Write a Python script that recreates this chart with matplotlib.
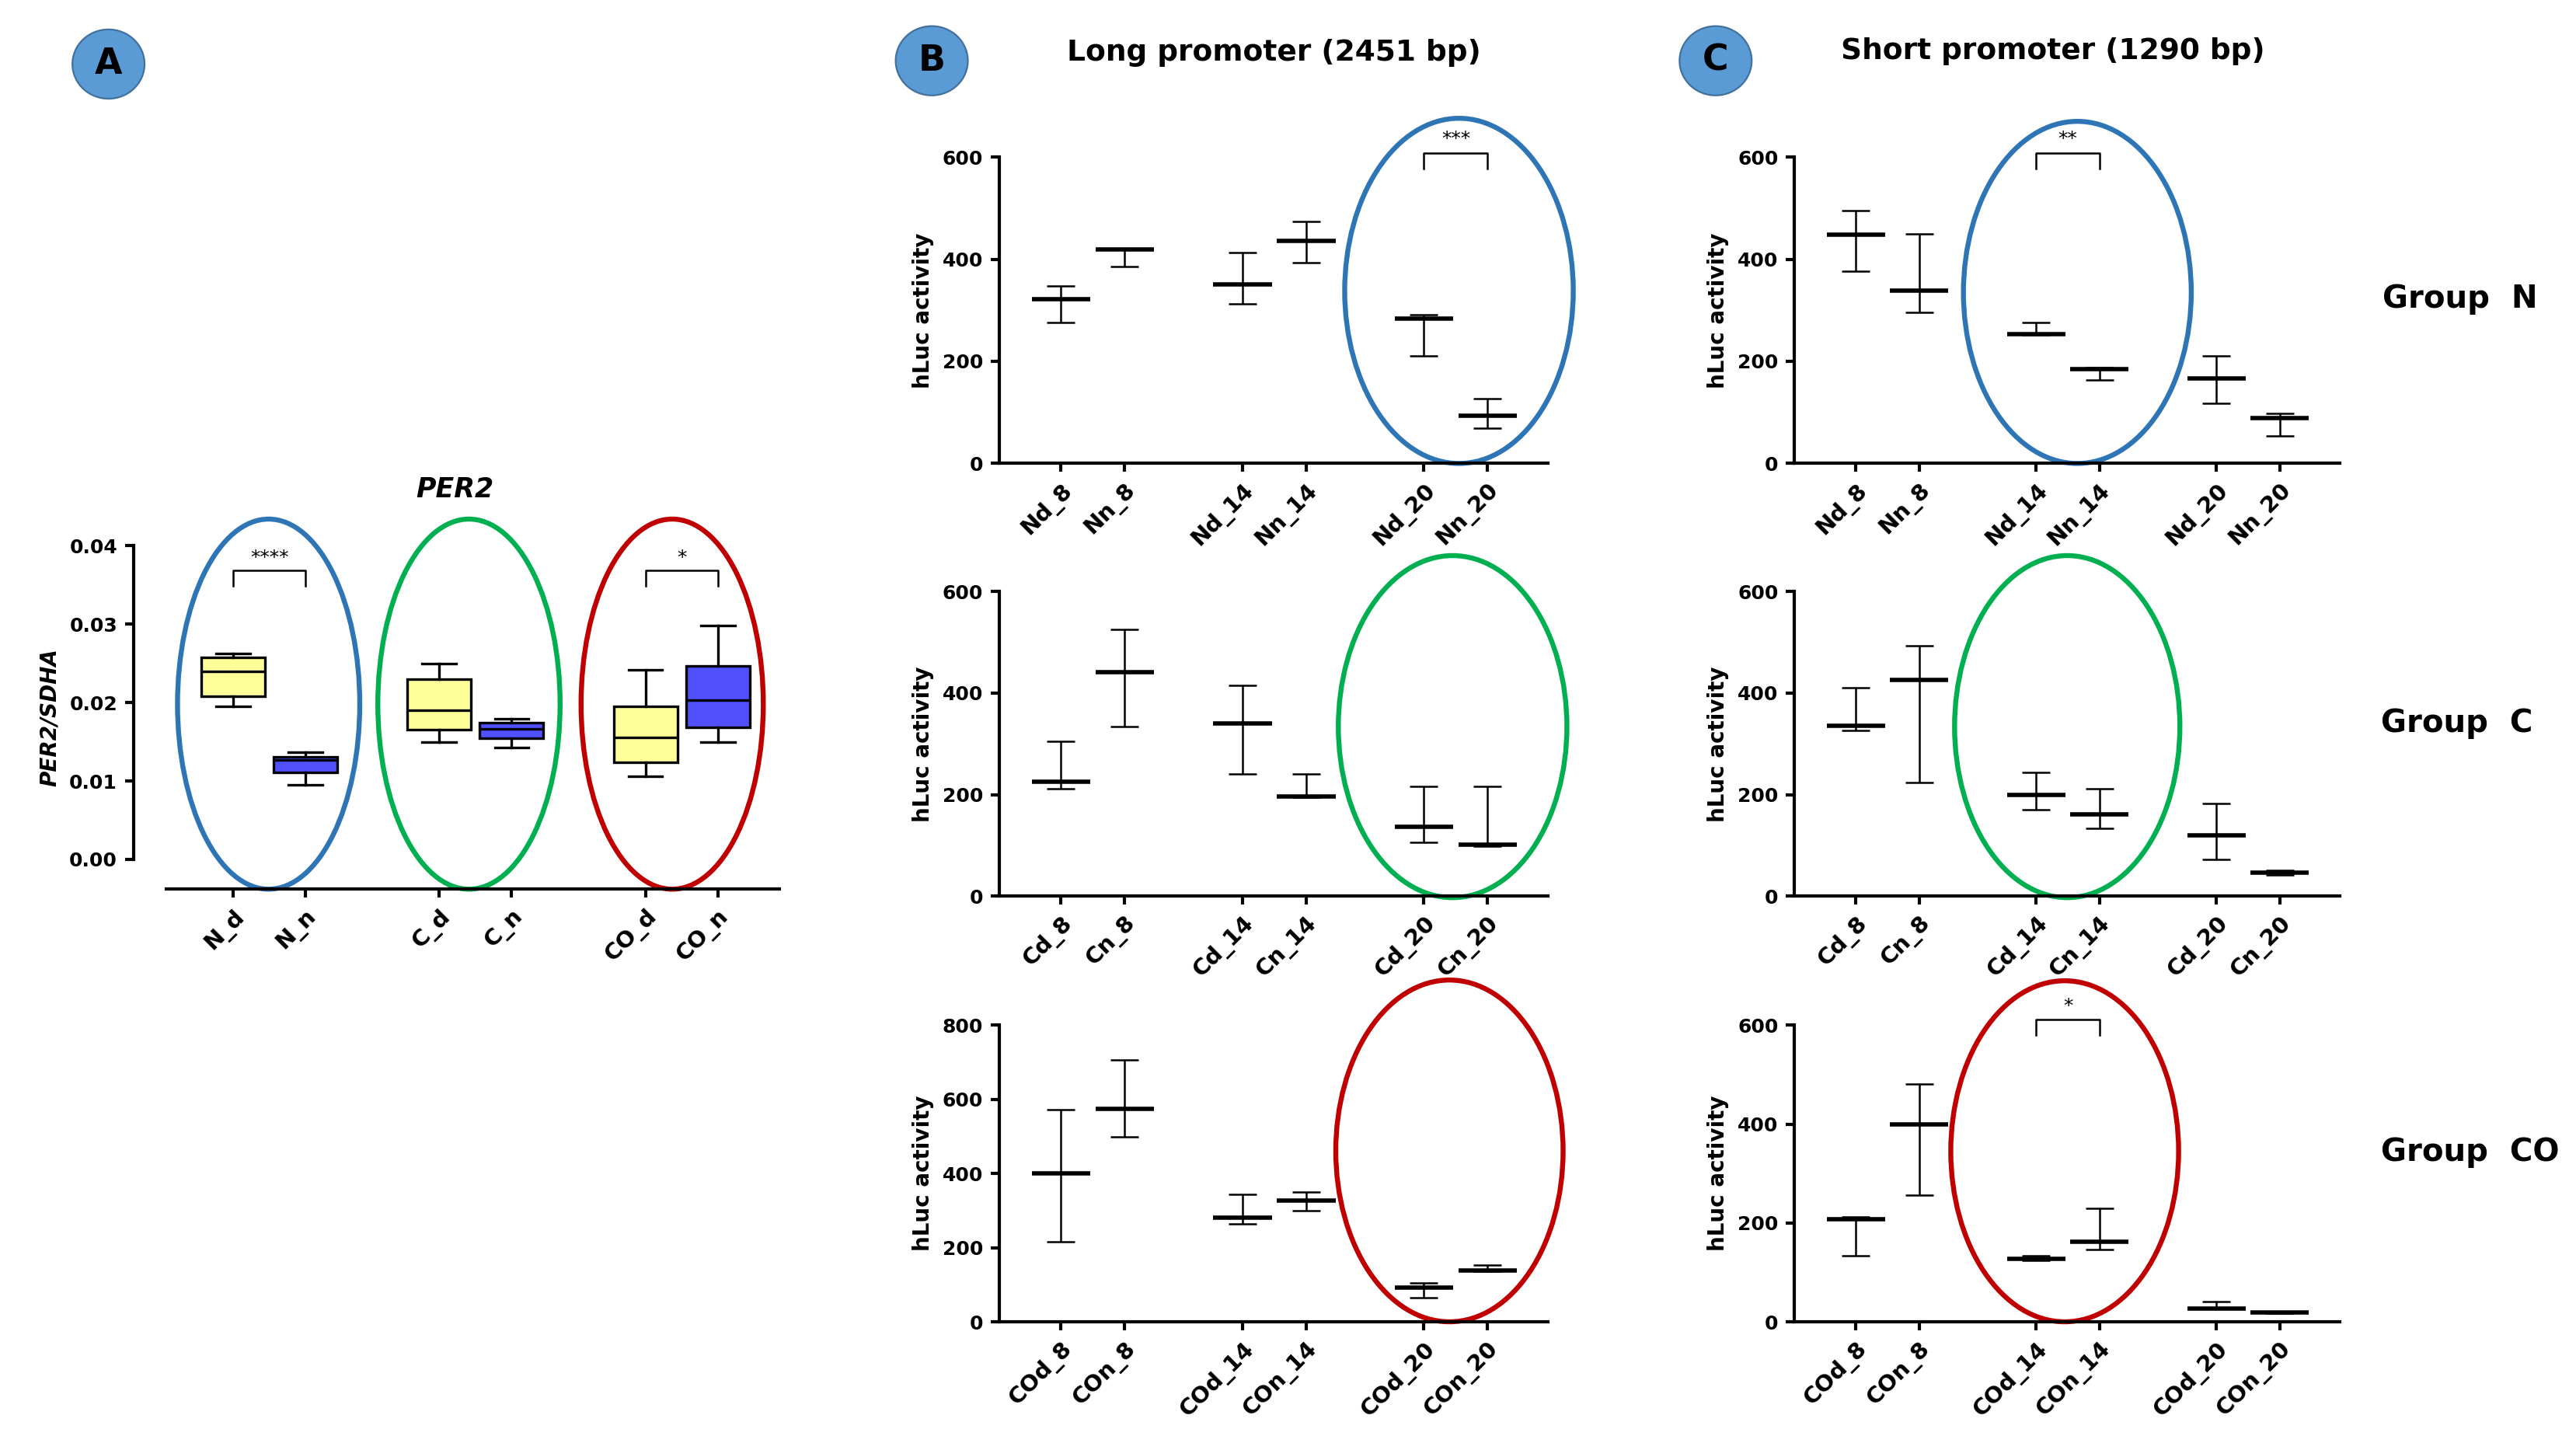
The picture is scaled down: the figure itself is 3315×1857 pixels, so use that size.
import matplotlib
matplotlib.use('Agg')
import matplotlib.pyplot as plt
from matplotlib.patches import Ellipse

# ---- panel A: PER2/SDHA box plots ----
per2_labels = ['N_d', 'N_n', 'C_d', 'C_n', 'CO_d', 'CO_n']
per2_whislo = [0.0195, 0.0095, 0.0150, 0.0143, 0.0106, 0.0150]
per2_q1 = [0.0208, 0.0111, 0.0165, 0.0155, 0.0124, 0.0168]
per2_med = [0.0240, 0.0127, 0.0190, 0.0166, 0.0156, 0.0203]
per2_q3 = [0.0258, 0.0131, 0.0230, 0.0174, 0.0195, 0.0247]
per2_whishi = [0.0263, 0.0137, 0.0250, 0.0179, 0.0242, 0.0298]

# ---- panels B/C: hLuc activity (centre line with range) ----
time_points = ['8', '14', '20']

long_N_mid = [322, 419, 350, 436, 284, 93]
long_N_lo = [276, 386, 312, 393, 211, 69]
long_N_hi = [348, 421, 413, 474, 292, 126]

short_N_mid = [448, 339, 253, 185, 167, 89]
short_N_lo = [377, 296, 252, 163, 118, 53]
short_N_hi = [495, 450, 276, 187, 211, 98]

long_C_mid = [226, 442, 341, 196, 137, 102]
long_C_lo = [211, 334, 241, 195, 106, 99]
long_C_hi = [305, 526, 416, 241, 216, 216]

short_C_mid = [336, 426, 200, 161, 120, 46]
short_C_lo = [326, 224, 171, 134, 73, 42]
short_C_hi = [411, 493, 244, 211, 183, 51]

long_CO_mid = [401, 575, 280, 327, 93, 138]
long_CO_lo = [216, 500, 265, 299, 65, 136]
long_CO_hi = [573, 707, 343, 350, 104, 153]

short_CO_mid = [207, 400, 128, 162, 27, 19]
short_CO_lo = [134, 256, 124, 146, 27, 18]
short_CO_hi = [213, 481, 133, 229, 41, 21]

xpos = [0, 1, 2.85, 3.85, 5.7, 6.7]
BLUE, GREEN, RED = '#2E75B6', '#00B050', '#C00000'

plt.rcParams['font.family'] = 'DejaVu Sans'
plt.rcParams['font.weight'] = 'bold'
plt.rcParams['axes.labelweight'] = 'bold'

fig = plt.figure(figsize=(16.58, 9.285), dpi=200)


def style_axes(ax):
    for s in ['top', 'right']:
        ax.spines[s].set_visible(False)
    for s in ['left', 'bottom']:
        ax.spines[s].set_linewidth(1.5)
    ax.tick_params(axis='both', length=4, width=1.5)
    ax.tick_params(axis='y', labelsize=9)
    ax.tick_params(axis='x', labelsize=10.5)


def bracket(ax, x0, x1, ytop, yleg, ytxt, stars):
    ax.plot([x0, x0, x1, x1], [yleg, ytop, ytop, yleg], color='black',
            lw=0.9, clip_on=False)
    ax.text((x0 + x1) / 2, ytxt, stars, ha='center', va='center',
            fontsize=9, fontweight='normal', clip_on=False)


def group_labels(g):
    out = []
    for t in time_points:
        out += [f'{g}d_{t}', f'{g}n_{t}']
    return out


def range_panel(rect, g, mid, lo, hi, ymax, ell, color):
    ax = fig.add_axes(rect)
    style_axes(ax)
    yerr = [[m - l for m, l in zip(mid, lo)], [h - m for m, h in zip(mid, hi)]]
    ax.errorbar(xpos, mid, yerr=yerr, fmt='none', ecolor='black',
                elinewidth=0.9, capsize=6.5, capthick=0.9)
    ax.hlines(mid, [x - 0.46 for x in xpos], [x + 0.46 for x in xpos],
              color='black', lw=2.0)
    ax.set_xlim(-0.97, 7.65)
    ax.set_ylim(0, ymax)
    ax.set_yticks(range(0, ymax + 1, 200))
    ax.set_xticks(xpos)
    ax.set_xticklabels(group_labels(g), rotation=45, ha='right',
                       rotation_mode='anchor')
    ax.set_ylabel('hLuc activity', fontsize=10)
    cx, w, cy, h = ell
    ax.add_patch(Ellipse((cx, cy), w, h, fill=False, ec=color, lw=2.3,
                         clip_on=False))
    return ax


# ---- panel A ----
axA = fig.add_axes([0.0644, 0.3838, 0.238, 0.238])
style_axes(axA)
stats = []
for i, lab in enumerate(per2_labels):
    stats.append(dict(label=lab, whislo=per2_whislo[i], q1=per2_q1[i],
                      med=per2_med[i], q3=per2_q3[i], whishi=per2_whishi[i],
                      fliers=[]))
bp = axA.bxp(stats, positions=xpos, widths=0.88, capwidths=0.47,
             patch_artist=True, showfliers=False,
             boxprops=dict(lw=1.2), medianprops=dict(color='black', lw=1.2),
             whiskerprops=dict(lw=1.2), capprops=dict(lw=1.2))
for patch, c in zip(bp['boxes'], ['#FFFF99', '#5050FF'] * 3):
    patch.set_facecolor(c)
axA.set_xlim(-0.93, 7.55)
axA.set_ylim(-0.0038, 0.04)
axA.spines['left'].set_position(('outward', 15))
axA.spines['left'].set_bounds(0, 0.04)
axA.set_yticks([0, 0.01, 0.02, 0.03, 0.04])
axA.set_yticklabels(['0.00', '0.01', '0.02', '0.03', '0.04'])
axA.set_xticks(xpos)
axA.set_xticklabels(per2_labels, rotation=45, ha='right', rotation_mode='anchor')
axA.set_ylabel('PER2/SDHA', fontsize=10, style='italic')
axA.text(3.07, 0.0455, 'PER2', ha='center', va='bottom', fontsize=12.5,
         style='italic', fontweight='bold')
for cx, col in zip([0.49, 3.26, 6.07], [BLUE, GREEN, RED]):
    axA.add_patch(Ellipse((cx, 0.0198), 2.52, 0.0472, fill=False, ec=col,
                          lw=2.3, clip_on=False))
bracket(axA, xpos[0], xpos[1], 0.03685, 0.0349, 0.0384, '****')
bracket(axA, xpos[4], xpos[5], 0.03685, 0.0349, 0.0384, '*')

# ---- panels B and C ----
rows_bottom = [0.679, 0.379, 0.084]
rows_height = [0.212, 0.211, 0.2055]
left_B, w_B = 0.3878, 0.213
left_C, w_C = 0.6964, 0.2117

axB1 = range_panel([left_B, rows_bottom[0], w_B, rows_height[0]], 'N',
                   long_N_mid, long_N_lo, long_N_hi, 600,
                   (6.25, 3.59, 338, 677), BLUE)
bracket(axB1, xpos[4], xpos[5], 609, 578, 636, '***')
axC1 = range_panel([left_C, rows_bottom[0], w_C, rows_height[0]], 'N',
                   short_N_mid, short_N_lo, short_N_hi, 600,
                   (3.5, 3.6, 335, 671), BLUE)
bracket(axC1, xpos[2], xpos[3], 609, 578, 636, '**')

range_panel([left_B, rows_bottom[1], w_B, rows_height[1]], 'C',
            long_C_mid, long_C_lo, long_C_hi, 600,
            (6.15, 3.59, 334, 674), GREEN)
range_panel([left_C, rows_bottom[1], w_C, rows_height[1]], 'C',
            short_C_mid, short_C_lo, short_C_hi, 600,
            (3.34, 3.56, 334, 674), GREEN)

range_panel([left_B, rows_bottom[2], w_B, rows_height[2]], 'CO',
            long_CO_mid, long_CO_lo, long_CO_hi, 800,
            (6.1, 3.57, 461, 922), RED)
axC3 = range_panel([left_C, rows_bottom[2], w_C, rows_height[2]], 'CO',
                   short_CO_mid, short_CO_lo, short_CO_hi, 600,
                   (3.3, 3.6, 345, 690), RED)
bracket(axC3, xpos[2], xpos[3], 612, 580, 639, '*')

# ---- header badges and titles ----
for letter, (x, y) in zip('ABC', [(0.0421, 0.9556), (0.3616, 0.9579), (0.6658, 0.9579)]):
    fig.add_artist(Ellipse((x, y), 0.028, 0.048, transform=fig.transFigure,
                           fc='#5B9BD5', ec='#41719C', lw=0.8))
    fig.text(x, y, letter, ha='center', va='center', fontsize=16.5,
             fontweight='bold')

fig.text(0.4943, 0.9636, 'Long promoter (2451 bp)', ha='center', va='center',
         fontsize=13.5, fontweight='bold')
fig.text(0.7966, 0.9647, 'Short promoter (1290 bp)', ha='center', va='center',
         fontsize=13.5, fontweight='bold')

fig.text(0.9247, 0.7927, 'Group  N', ha='left', va='center', fontsize=14.5, fontweight='bold')
fig.text(0.9241, 0.4989, 'Group  C', ha='left', va='center', fontsize=14.5, fontweight='bold')
fig.text(0.9241, 0.2016, 'Group  CO', ha='left', va='center', fontsize=14.5, fontweight='bold')

fig.savefig('out.png', dpi=200, facecolor='white')
